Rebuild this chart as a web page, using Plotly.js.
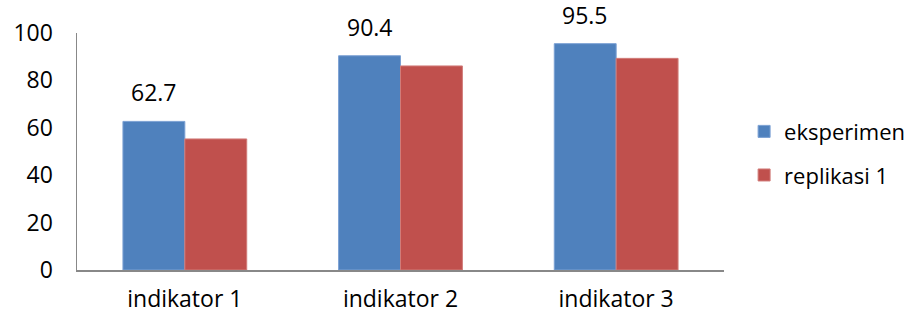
<!DOCTYPE html>
<html>
<head>
<meta charset="utf-8">
<script src="https://cdn.plot.ly/plotly-3.0.1.min.js"></script>
<style>html,body{margin:0;padding:0;background:#fff;}#chart{width:913px;height:316px;}</style>
</head>
<body>
<div id="chart"></div>
<script>
var categories = ["indikator 1", "indikator 2", "indikator 3"];
var eksperimen = [62.7, 90.4, 95.5];
var replikasi1 = [55.3, 86.1, 89.3];
var eksperimenLabels = ["62.7", "90.4", "95.5"];
var seriesNames = ["eksperimen", "replikasi 1"];
var yTicks = [0, 20, 40, 60, 80, 100];

var FONT = "'Open Sans', Lato, sans-serif";

var traces = [
  {
    type: "bar", name: seriesNames[0], x: categories, y: eksperimen,
    marker: {color: "#4F81BD", line: {color: "#7BA0D3", width: 1}},
    legendgroup: "a", hoverinfo: "none"
  },
  {
    type: "bar", name: seriesNames[1], x: categories, y: replikasi1,
    marker: {color: "#C0504D", line: {color: "#D17C79", width: 1}},
    legendgroup: "b", hoverinfo: "none"
  }
];

var annotations = categories.map(function (c, i) {
  return {
    x: c, y: eksperimen[i], xref: "x", yref: "y",
    text: eksperimenLabels[i], showarrow: false,
    xanchor: "center", yanchor: "bottom",
    xshift: -31, yshift: 11,
    font: {family: FONT, size: 23, color: "#000"}
  };
});

var layout = {
  width: 913, height: 316,
  margin: {l: 77, r: 189, t: 33, b: 46, pad: 0, autoexpand: false},
  paper_bgcolor: "#fff", plot_bgcolor: "#fff",
  font: {family: FONT, size: 23, color: "#000"},
  barmode: "group", bargap: 0.426, bargroupgap: 0,
  showlegend: true,
  legend: {
    xref: "container", yref: "container",
    x: 0.815, xanchor: "left", y: 0.514, yanchor: "middle",
    font: {family: FONT, size: 22, color: "#000"},
    tracegroupgap: 12, traceorder: "grouped", bgcolor: "rgba(0,0,0,0)",
    itemwidth: 30
  },
  xaxis: {
    type: "category", range: [-0.5, 2.5],
    showline: true, linecolor: "#888", linewidth: 1.5,
    showgrid: false, zeroline: false, ticks: "",
    ticklabelstandoff: 8,
    tickfont: {family: FONT, size: 23, color: "#000"},
    fixedrange: true
  },
  yaxis: {
    range: [0, 100], tickvals: yTicks, ticktext: yTicks.map(String),
    showline: true, linecolor: "#888", linewidth: 1.5,
    showgrid: false, zeroline: false, ticks: "",
    ticklabelstandoff: 18,
    tickfont: {family: FONT, size: 23, color: "#000"},
    fixedrange: true
  },
  annotations: annotations
};

Plotly.newPlot("chart", traces, layout, {staticPlot: true, displayModeBar: false});
</script>
</body>
</html>
